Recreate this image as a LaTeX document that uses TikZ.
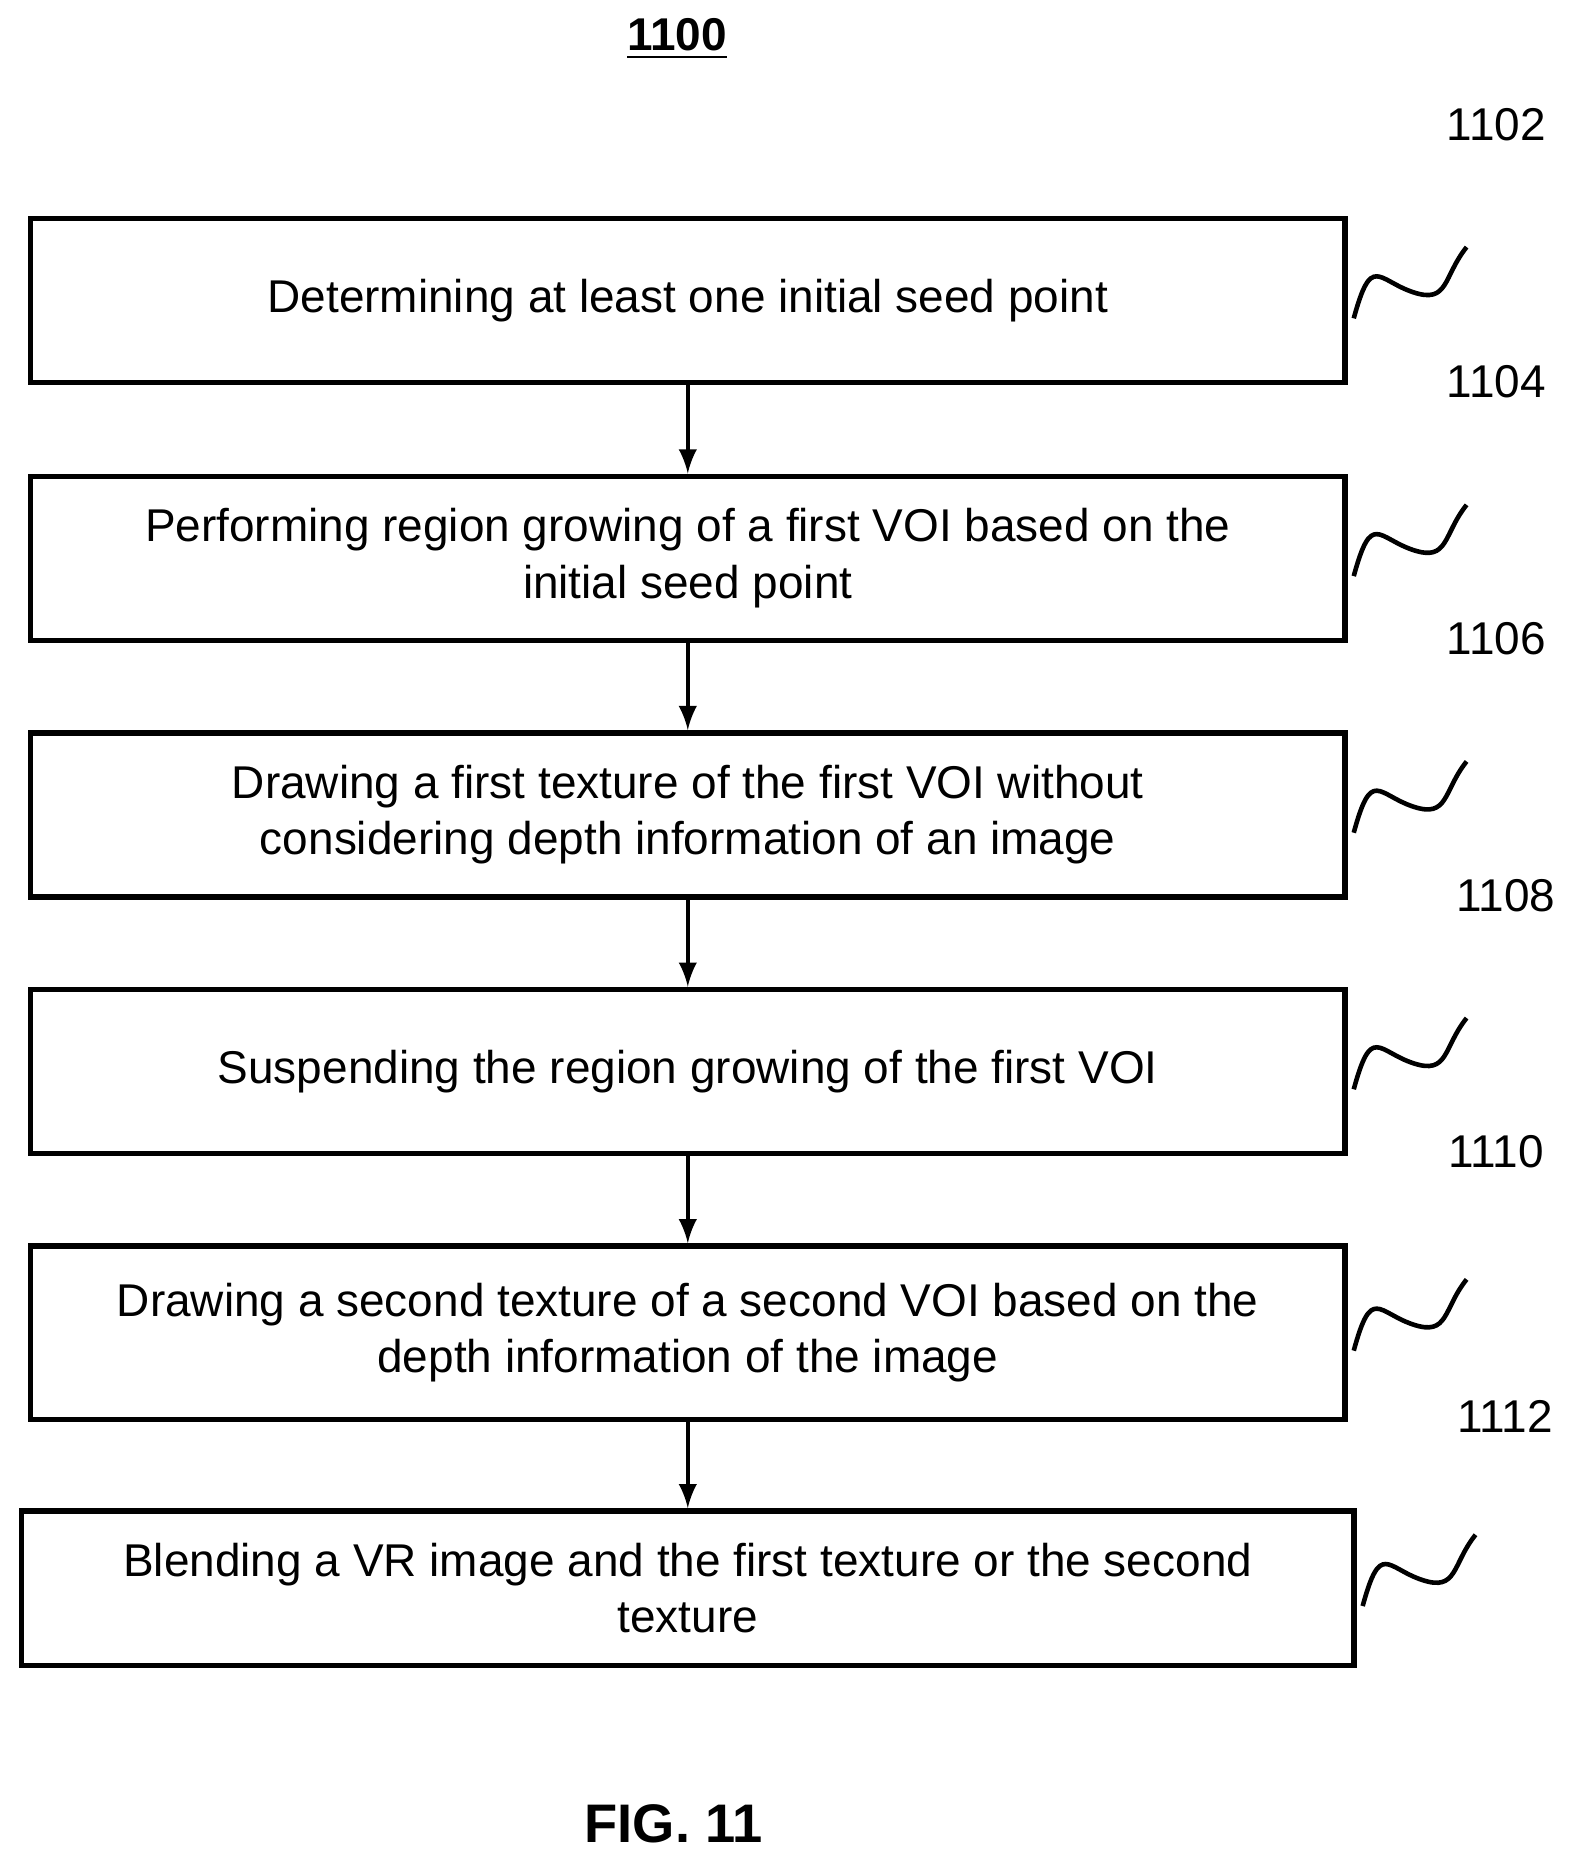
\documentclass[tikz,border=0pt]{standalone}
\usepackage{fontspec}
\setmainfont{Liberation Sans}
\usetikzlibrary{positioning}
\begin{document}
\begin{tikzpicture}[x=0.01cm, y=-0.01cm]
    \tikzset{ stepbox/.style={rectangle,draw,line width=1.3pt,minimum width=11.06cm,minimum height=1.38cm,align=center,font=\fontsize{11}{13.5}\selectfont},
            arrow/.style={-latex, line width=1pt},
            ref/.style={font=\fontsize{11}{13}\selectfont},
            squig/.style={line width=1.1pt}}
    \useasboundingbox (0,0) rectangle (1330,1570);
    \node[font=\bfseries\fontsize{11}{13}\selectfont] (title) at (570,33) {\underline{1100}};
    \node[stepbox] (s1) at (579,253) {Determining at least one initial seed point};
    \node[stepbox] (s2) at (579,470) {Performing region growing of a first VOI based on the\\initial seed point};
    \node[stepbox] (s3) at (579,686) {Drawing a first texture of the first VOI without\\considering depth information of an image};
    \node[stepbox] (s4) at (579,902) {Suspending the region growing of the first VOI};
    \node[stepbox, minimum height=1.46cm] (s5) at (579,1122) {Drawing a second texture of a second VOI based on the\\depth information of the image};
    \node[stepbox, minimum width=11.21cm, minimum height=1.3cm] (s6) at (579,1337) {Blending a VR image and the first texture or the second\\texture};

    % fleches
    \foreach \a/\b in {s1/s2, s2/s3, s3/s4, s4/s5, s5/s6}
        \draw[arrow] (\a.south) -- (\b.north);

    % numeros
    \foreach \s/\n/\dx in {s1/1102/0, s2/1104/0, s3/1106/0, s4/1108/8, s5/1110/0, s6/1112/0} {
        \node[ref] (l\n) at ([xshift=1.25cm+\dx*0.01cm, yshift=0.77cm]\s.north east) {\n};
        \draw[squig] ([xshift=0.05cm, yshift=-0.15cm]\s.east) .. controls +(15,-55) and +(-30,-10) .. ++(50,-22)
            .. controls +(30,10) and +(-20,25) .. ++(45,-38);
    }
    \node[font=\bfseries\fontsize{13}{15}\selectfont] (fig) at (567,1535) {FIG. 11};
\end{tikzpicture}
\end{document}
